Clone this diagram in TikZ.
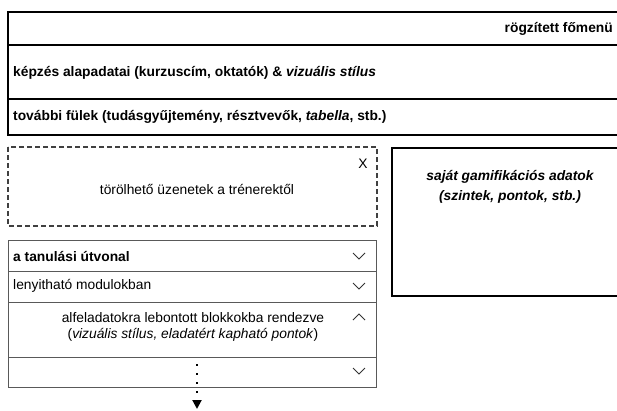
\documentclass[tikz,border=0pt]{standalone}
\usepackage{fontspec}
\setmainfont{Liberation Sans}
\usetikzlibrary{arrows.meta}
\begin{document}
\begin{tikzpicture}[x=1pt,y=-1pt,
  thickbox/.style={draw=black,line width=2.2pt},
  dashbox/.style={draw=black!75,line width=1.3pt,dash pattern=on 5pt off 3pt},
  thinbox/.style={draw=black!65,line width=0.9pt},
  txt/.style={font=\fontsize{13.8}{16}\selectfont,inner sep=0pt},
  btxt/.style={font=\fontsize{13.8}{16}\selectfont\bfseries,inner sep=0pt},
  chev/.style={draw=black!80,line width=1pt}]
\useasboundingbox (0,0) rectangle (617,410);
% top box
\draw[thickbox] (8,12) rectangle (624,45);
\draw[thickbox] (8,45) rectangle (624,99);
\draw[thickbox] (8,99) rectangle (624,135);
\node[btxt,anchor=east] (menu) at (613,29) {rögzített főmenü};
\node[btxt,anchor=west] (alap) at (13,73) {képzés alapadatai (kurzuscím, oktatók) \& \textit{vizuális stílus}};
\node[btxt,anchor=west] (fulek) at (13,117) {további fülek (tudásgyűjtemény, résztvevők, \textit{tabella}, stb.)};
% dashed box
\draw[dashbox] (8,147) rectangle (377,226);
\node[txt] (x) at (363,164) {X};
\node[txt] (uzenet) at (197,189) {törölhető üzenetek a trénerektől};
% learning path
\draw[thinbox] (8,240) rectangle (376,271);
\draw[thinbox] (8,271) rectangle (376,302);
\draw[thinbox] (8,302) rectangle (376,357);
\draw[thinbox] (8,357) rectangle (376,387);
\node[btxt,anchor=west] (ut) at (13,256) {a tanulási útvonal};
\node[txt,anchor=west] (modul) at (13,286) {lenyitható modulokban};
\node[txt,align=center] (blokk) at (193,327) {alfeladatokra lebontott blokkokba rendezve\\(\textit{vizuális stílus, eladatért kapható pontok})};
\draw[chev] (353,253) -- (359,259) -- (365,253);
\draw[chev] (353,283) -- (359,289) -- (365,283);
\draw[chev] (353,320) -- (359,314) -- (365,320);
\draw[chev] (353,368) -- (359,374) -- (365,368);
\coordinate (s) at (197,364);
\coordinate (e) at (197,409);
\draw[line width=2pt,dash pattern=on 2pt off 7pt,-{Triangle[width=9pt,length=9pt]}] (s) -- (e);
% right box
\draw[thickbox] (392,148) rectangle (624,296);
\node[btxt,align=center,font=\fontsize{13.8}{20}\selectfont\bfseries\itshape] (gam) at (510,187) {saját gamifikációs adatok\\(szintek, pontok, stb.)};
\end{tikzpicture}
\end{document}
